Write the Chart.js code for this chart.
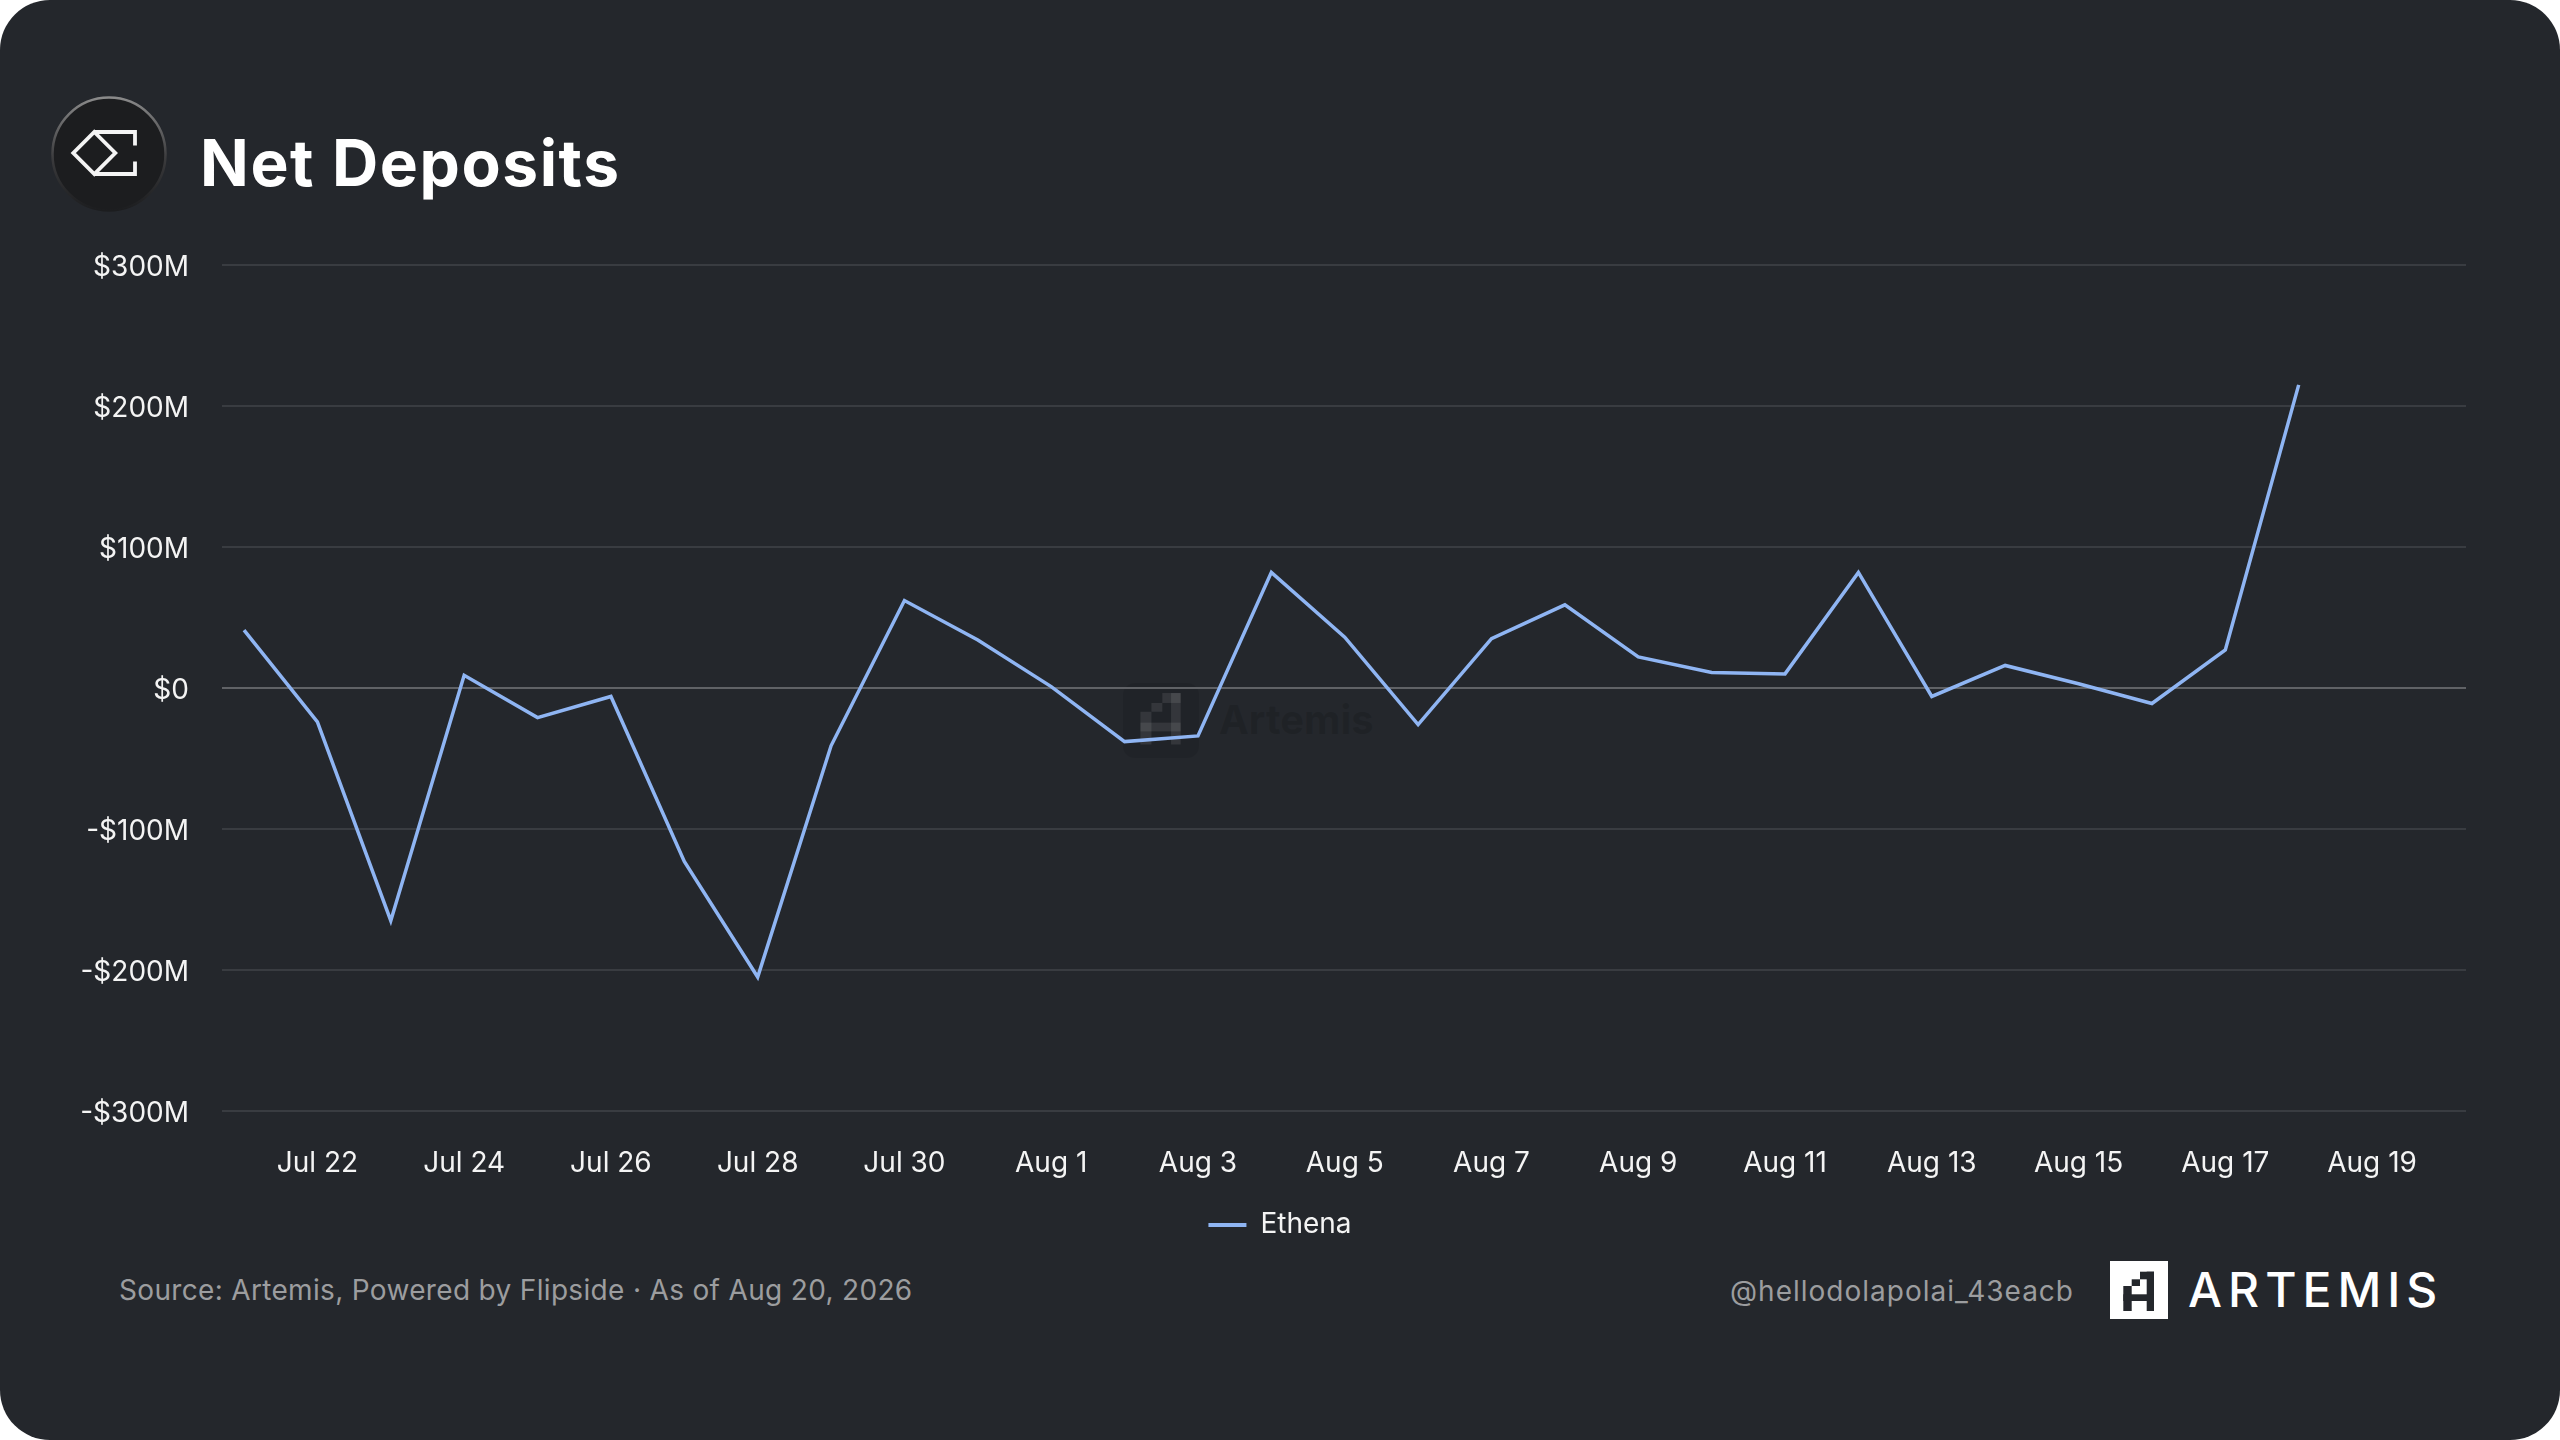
<!DOCTYPE html>
<html>
<head>
<meta charset="utf-8">
<script src="https://cdn.jsdelivr.net/npm/chart.js@4.4.1/dist/chart.umd.min.js"></script>
<style>
  html, body { margin: 0; padding: 0; background: #ffffff; }
  #card { position: relative; width: 2560px; height: 1440px; background: #24272c; border-radius: 50px; overflow: hidden; font-family: Inter, "Noto Sans", sans-serif; }
  #chart { position: absolute; left: 0; top: 0; z-index: 2; }
  .txt { position: absolute; white-space: nowrap; line-height: 1; }
  #title { left: 200px; top: 131px; font-size: 64px; font-weight: 700; color: #ffffff; letter-spacing: 1.6px; }
  #source { left: 119px; top: 1276px; font-size: 28px; color: #9c9d9f; letter-spacing: 0.33px; }
  #handle { right: 486px; top: 1277px; font-size: 28px; color: #9c9d9f; letter-spacing: 1px; }
  #brand { left: 2188px; top: 1266px; font-size: 48px; font-weight: 500; color: #ffffff; letter-spacing: 6px; }
  #wmtext { left: 1219px; top: 700px; font-size: 40px; font-weight: 700; color: rgba(0,0,0,0.13); z-index: 1; }
  svg.deco { position: absolute; left: 0; top: 0; }
</style>
</head>
<body>
<div id="card">
  <svg class="deco" width="2560" height="1440" style="z-index:1">
    <defs>
      <linearGradient id="rim" x1="0" y1="0" x2="0" y2="1">
        <stop offset="0" stop-color="#8a8a8a"/>
        <stop offset="0.55" stop-color="#3a3a3c"/>
        <stop offset="1" stop-color="#1c1d1f"/>
      </linearGradient>
      <symbol id="aglyph" viewBox="0 0 58 58">
        <rect x="36.7" y="10.7" width="7.3" height="39.3"/>
        <rect x="30" y="10.7" width="14" height="7.6"/>
        <rect x="21.7" y="18.3" width="8.3" height="6.7"/>
        <rect x="13.3" y="25" width="8.4" height="25"/>
        <rect x="13.3" y="33.3" width="30.7" height="6.7"/>
      </symbol>
    </defs>
    <!-- Ethena logo -->
    <circle cx="109" cy="154" r="56.5" fill="#1c1d1f" stroke="url(#rim)" stroke-width="2.5"/>
    <path d="M94.3 132 L135 132 L135 145.5 M135 161.5 L135 174 L94.3 174 M94.3 132 L115.3 153 L94.3 174 L73.3 153 Z"
          fill="none" stroke="#f4f4f4" stroke-width="3.8" stroke-linejoin="miter"/>
    <!-- watermark -->
    <rect x="1123" y="683" width="76" height="75" rx="12" fill="rgba(0,0,0,0.09)"/>
    <use href="#aglyph" x="1123" y="679" width="76" height="76" fill="rgba(255,255,255,0.09)"/>
    <!-- Artemis footer logo -->
    <rect x="2110" y="1261" width="58" height="58" fill="#ffffff"/>
    <use href="#aglyph" x="2110" y="1261" width="58" height="58" fill="#24272c"/>
  </svg>
  <div id="wmtext" class="txt">Artemis</div>
  <canvas id="chart" width="2560" height="1440"></canvas>
  <div id="title" class="txt">Net Deposits</div>
  <div id="source" class="txt">Source: Artemis, Powered by Flipside · As of Aug 20, 2026</div>
  <div id="handle" class="txt">@hellodolapolai_43eacb</div>
  <div id="brand" class="txt">ARTEMIS</div>
</div>
<script>
// Calendar of the x axis (one entry per day)
const calendar = ['Jul 21','Jul 22','Jul 23','Jul 24','Jul 25','Jul 26','Jul 27','Jul 28','Jul 29','Jul 30','Jul 31',
  'Aug 1','Aug 2','Aug 3','Aug 4','Aug 5','Aug 6','Aug 7','Aug 8','Aug 9','Aug 10','Aug 11','Aug 12','Aug 13',
  'Aug 14','Aug 15','Aug 16','Aug 17','Aug 18','Aug 19','Aug 20'];
// Days with data
const days = ['Jul 21','Jul 22','Jul 23','Jul 24','Jul 25','Jul 26','Jul 27','Jul 28','Jul 29','Jul 30','Jul 31',
  'Aug 1','Aug 2','Aug 3','Aug 4','Aug 5','Aug 6','Aug 7','Aug 8','Aug 9','Aug 10','Aug 11','Aug 12','Aug 13',
  'Aug 14','Aug 15','Aug 16','Aug 17','Aug 18'];
// Ethena net deposits, $M
const ethena = [41, -24, -165, 9, -21, -6, -123, -205, -41, 62, 34,
  1, -38, -34, 82, 36, -26, 35, 59, 22, 11, 10, 82, -6,
  16, 3, -11, 27, 215];
// Tick labels
const xTickLabels = ['Jul 22','Jul 24','Jul 26','Jul 28','Jul 30','Aug 1','Aug 3','Aug 5','Aug 7','Aug 9','Aug 11','Aug 13','Aug 15','Aug 17','Aug 19'];
const yTickValues = [-300, -200, -100, 0, 100, 200, 300];
const seriesName = 'Ethena';

const lineColor = '#8fb5f3';
const points = days.map((d, i) => ({ x: calendar.indexOf(d), y: ethena[i] }));
const fmtM = v => v === 0 ? '$0' : (v < 0 ? '-$' : '$') + Math.abs(v) + 'M';

new Chart(document.getElementById('chart'), {
  type: 'line',
  data: {
    datasets: [{
      label: seriesName,
      data: points,
      borderColor: lineColor,
      backgroundColor: lineColor,
      borderWidth: 3.5,
      pointRadius: 0,
      tension: 0,
      fill: false,
      yAxisID: 'y'
    }]
  },
  options: {
    responsive: false,
    animation: false,
    devicePixelRatio: 1,
    layout: { padding: { top: 265, left: 0, right: 0, bottom: 191 } },
    plugins: {
      tooltip: { enabled: false },
      legend: {
        position: 'bottom',
        labels: {
          color: '#f4f4f4',
          font: { family: 'Inter', size: 28 },
          boxWidth: 38,
          boxHeight: 4,
          padding: 17,
          generateLabels: (chart) => Chart.defaults.plugins.legend.labels.generateLabels(chart)
            .map(l => Object.assign(l, { lineWidth: 0, fillStyle: lineColor }))
        }
      }
    },
    scales: {
      x: {
        type: 'linear',
        min: -0.3,
        max: 30.28,
        grid: { display: false },
        border: { display: false },
        afterBuildTicks: (axis) => {
          axis.ticks = xTickLabels.map(l => ({ value: calendar.indexOf(l) }));
        },
        ticks: {
          autoSkip: false,
          maxRotation: 0,
          padding: 28,
          color: '#f4f4f4',
          font: { family: 'Inter', size: 28 },
          callback: (v) => calendar[v]
        },
        afterFit: (s) => { s.height = 83; }
      },
      y: {
        position: 'left',
        min: -300,
        max: 300,
        afterBuildTicks: (axis) => { axis.ticks = yTickValues.map(v => ({ value: v })); },
        ticks: {
          padding: 33,
          labelOffset: 3,
          color: '#f4f4f4',
          font: { family: 'Inter', size: 28 },
          callback: (v) => fmtM(v)
        },
        grid: {
          drawTicks: false,
          lineWidth: 2,
          color: (c) => (c.tick && c.tick.value === 0) ? '#606266' : '#393c41'
        },
        border: { display: false },
        afterFit: (s) => { s.width = 222; }
      },
      y2: {
        position: 'right',
        display: true,
        grid: { display: false },
        border: { display: false },
        ticks: { display: false },
        afterFit: (s) => { s.width = 94; }
      }
    }
  }
});
</script>
</body>
</html>
